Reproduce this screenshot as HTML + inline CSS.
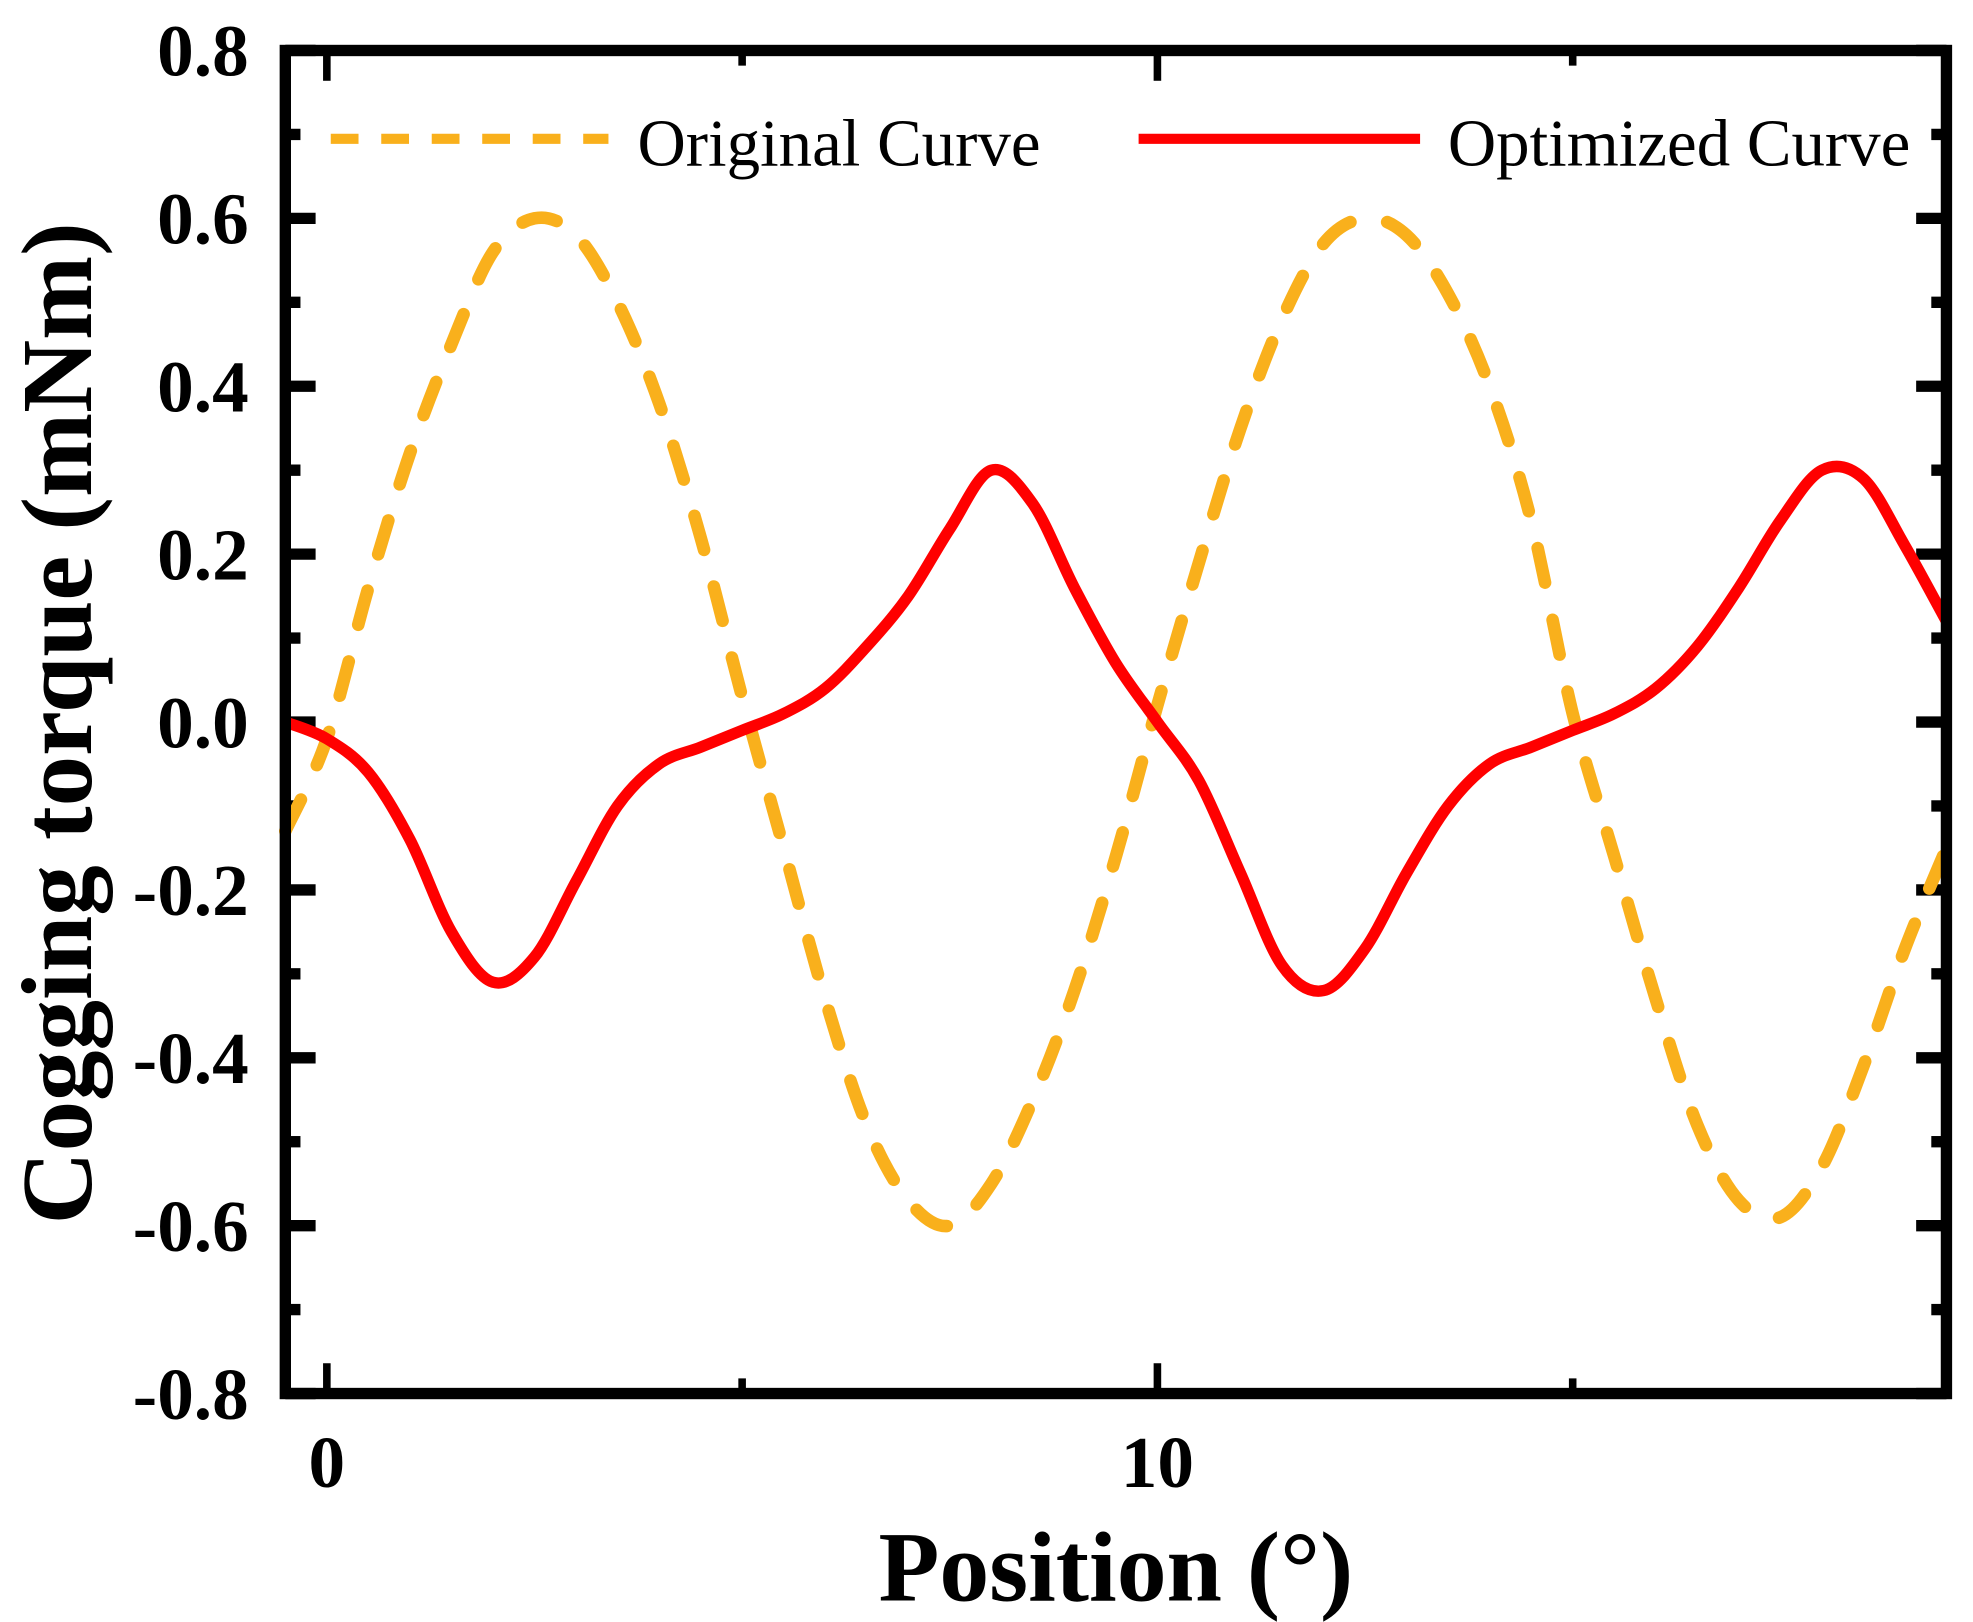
<!DOCTYPE html>
<html><head><meta charset="utf-8"><style>
html,body{margin:0;padding:0;background:#fff}
svg{display:block}
text{font-family:"Liberation Serif","Times New Roman",serif}
</style></head><body>
<svg id="chart" width="1973" height="1622" viewBox="0 0 1563 1285" xmlns="http://www.w3.org/2000/svg">
<rect width="1563" height="1285" fill="#fff"/>
<g id="ticks"></g>
<g id="curves"></g>
<rect x="226" y="40" width="1316" height="1064" fill="none" stroke="#000" stroke-width="9"/>
<g id="labels"></g>
<g>
<line x1="262" y1="110" x2="482" y2="110" stroke="#F9B01C" stroke-width="8" stroke-dasharray="22,18"/>
<text x="505" y="131" font-size="53">Original Curve</text>
<line x1="902" y1="110" x2="1125" y2="110" stroke="#FF0000" stroke-width="8"/>
<text x="1147" y="131" font-size="53">Optimized Curve</text>
</g>
<text x="884" y="1268" font-size="79" font-weight="bold" text-anchor="middle">Position (°)</text>
<text transform="translate(72,573) rotate(-90)" font-size="80" font-weight="bold" text-anchor="middle">Cogging torque (mNm)</text>
</svg>
<script>
const xs = [-0.5,0,0.5,1,1.5,2,2.5,3,3.5,4,4.5,5,5.5,6,6.5,7,7.5,8,8.5,9,9.5,10,10.5,11,11.5,12,12.5,13,13.5,14,14.5,15,15.5,16,16.5,17,17.5,18,18.5,19,19.5];
const original = [-0.13,-0.02,0.16,0.32,0.45,0.56,0.60,0.58,0.50,0.38,0.22,0.03,-0.15,-0.33,-0.48,-0.57,-0.60,-0.55,-0.45,-0.32,-0.16,0.02,0.19,0.35,0.48,0.57,0.60,0.58,0.51,0.40,0.24,0.01,-0.16,-0.33,-0.48,-0.57,-0.59,-0.53,-0.41,-0.27,-0.15];
const optimized = [0.0,-0.02,-0.06,-0.14,-0.25,-0.31,-0.28,-0.19,-0.10,-0.05,-0.03,-0.01,0.01,0.04,0.09,0.15,0.23,0.30,0.26,0.16,0.07,0.00,-0.07,-0.18,-0.29,-0.32,-0.27,-0.18,-0.10,-0.05,-0.03,-0.01,0.01,0.04,0.09,0.16,0.24,0.30,0.29,0.21,0.12];
const yTicks = [0.8,0.6,0.4,0.2,0.0,-0.2,-0.4,-0.6,-0.8];
const yTickLabels = ["0.8","0.6","0.4","0.2","0.0","-0.2","-0.4","-0.6","-0.8"];
const xMajor = [0,10];
const xMajorLabels = ["0","10"];
const xMinor = [5,15];

const NS="http://www.w3.org/2000/svg";
const X0=-0.5,X1=19.5,PL=226,PR=1542,PT=40,PB=1104;
const sx=v=>PL+(v-X0)/(X1-X0)*(PR-PL);
const sy=v=>PT+(0.8-v)/1.6*(PB-PT);
function mk(tag,attrs,parent){const e=document.createElementNS(NS,tag);for(const k in attrs)e.setAttribute(k,attrs[k]);parent.appendChild(e);return e;}
const T=document.getElementById('ticks'),L=document.getElementById('labels'),C=document.getElementById('curves');
for(let i=0;i<yTicks.length;i++){
  const y=sy(yTicks[i]);
  const a=mk('line',{x1:PL,y1:y,x2:PL+24,y2:y,stroke:'#000','stroke-width':9},T);
  
  
  const b=mk('line',{x1:PR,y1:y,x2:PR-24,y2:y,stroke:'#000','stroke-width':9},T);
  
  
  const t=mk('text',{x:197,y:y+20,'font-size':58,'font-weight':'bold','text-anchor':'end'},L);
  t.textContent=yTickLabels[i];
  
  
  if(i<yTicks.length-1){
    const ym=sy((yTicks[i]+yTicks[i+1])/2);
    const c=mk('line',{x1:PL,y1:ym,x2:PL+12,y2:ym,stroke:'#000','stroke-width':9},T);
    
    
    const d=mk('line',{x1:PR,y1:ym,x2:PR-12,y2:ym,stroke:'#000','stroke-width':9},T);
    
    
  }
}
for(let i=0;i<xMajor.length;i++){
  const x=sx(xMajor[i]);
  const a=mk('line',{x1:x,y1:PB,x2:x,y2:PB-24,stroke:'#000','stroke-width':6},T);
  
  
  const b=mk('line',{x1:x,y1:PT,x2:x,y2:PT+24,stroke:'#000','stroke-width':6},T);
  
  
  const t=mk('text',{x:x,y:1178,'font-size':58,'font-weight':'bold','text-anchor':'middle'},L);
  t.textContent=xMajorLabels[i];
  
  
}
for(let i=0;i<xMinor.length;i++){
  const x=sx(xMinor[i]);
  const a=mk('line',{x1:x,y1:PB,x2:x,y2:PB-12,stroke:'#000','stroke-width':6},T);
  
  
  const b=mk('line',{x1:x,y1:PT,x2:x,y2:PT+12,stroke:'#000','stroke-width':6},T);
  
  
}
function pathFor(ys){
  const p=xs.map((x,i)=>[sx(x),sy(ys[i])]);
  let d='M'+p[0][0]+','+p[0][1];
  for(let i=0;i<p.length-1;i++){
    const p0=p[Math.max(0,i-1)],p1=p[i],p2=p[i+1],p3=p[Math.min(p.length-1,i+2)];
    const c1=[p1[0]+(p2[0]-p0[0])/6,p1[1]+(p2[1]-p0[1])/6];
    const c2=[p2[0]-(p3[0]-p1[0])/6,p2[1]-(p3[1]-p1[1])/6];
    d+=' C'+c1[0]+','+c1[1]+' '+c2[0]+','+c2[1]+' '+p2[0]+','+p2[1];
  }
  return d;
}
const po=mk('path',{d:pathFor(original),fill:'none',stroke:'#F9B01C','stroke-width':10,'stroke-dasharray':'28,30','stroke-linecap':'round'},C);


const pr=mk('path',{d:pathFor(optimized),fill:'none',stroke:'#FF0000','stroke-width':9},C);


</script>
</body></html>
